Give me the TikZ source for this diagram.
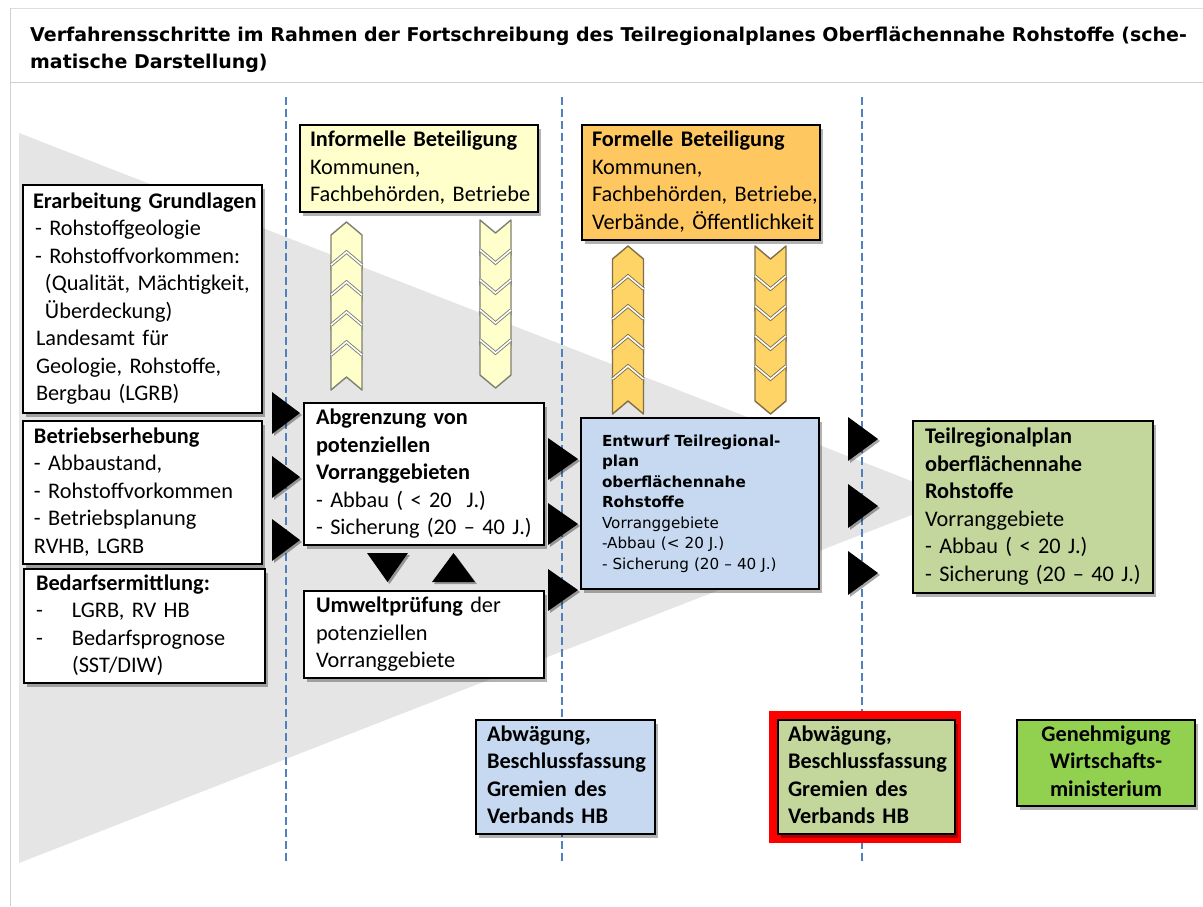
\documentclass[tikz,border=0pt]{standalone}
\usepackage{fontspec}
\setmainfont{Carlito}
\newfontfamily\vfont{DejaVu Sans}
\usetikzlibrary{shadows}
\definecolor{dashblue}{HTML}{4F81BD}
\definecolor{infofill}{HTML}{FFFFCC}
\definecolor{formfill}{HTML}{FFC760}
\definecolor{chevgold}{HTML}{FFD466}
\definecolor{chevgoldline}{HTML}{7F6F48}
\definecolor{chevpale}{HTML}{FFFFCC}
\definecolor{chevpaleline}{HTML}{7F7F72}
\definecolor{lblue}{HTML}{C6D9F1}
\definecolor{lgreen}{HTML}{C3D69B}
\definecolor{bgreen}{HTML}{92D050}
\definecolor{trigray}{HTML}{E5E5E5}
\definecolor{framegray}{HTML}{D0D0D0}
\newcommand\bodyfont{\fontsize{22.3}{27.5}\selectfont}
\newcommand\verdfont{\vfont\fontsize{15.2}{20.5}\selectfont}
\newcommand\titlefont{\vfont\bfseries\fontsize{19}{26.5}\selectfont}
\newcommand\tb[1]{\noindent\begin{tabular}{@{}l@{}}#1\end{tabular}}
\newcommand\tbc[1]{\begin{tabular}{@{}c@{}}#1\end{tabular}}
\newcommand\bx[8]{%
  \pgfmathsetmacro\BXw{#4-#2}%
  \pgfmathsetmacro\BXh{#5-#3}%
  \pgfmathsetmacro\BXx{(#2+#4)/2}%
  \pgfmathsetmacro\BXy{(#3+#5)/2}%
  \pgfmathsetmacro\BXt{#4-#2-2*#6}%
  \node[box,inner xsep=#6pt,#7,minimum width=\BXw pt,minimum height=\BXh pt,text width=\BXt pt] (#1) at (\BXx,\BXy) {#8};}
\newcommand\chevup[4]{%
  \foreach \k in {0,...,4}{%
    \pgfmathsetmacro\ca{#2+30*\k}%
    \filldraw[fill=#3,draw=#4,line width=1.4pt,line join=round]
      (#1,\ca) -- (#1+15.5,\ca+13) -- (#1+15.5,\ca+48) -- (#1,\ca+35)
      -- (#1-15.5,\ca+48) -- (#1-15.5,\ca+13) -- cycle;
    \ifnum\k>0
      \draw[draw=#4,double=white,double distance=1.6pt,line width=0.9pt]
        (#1-15.5,\ca+13) -- (#1,\ca) -- (#1+15.5,\ca+13);
    \fi}}
\newcommand\chevdown[4]{%
  \foreach \k in {0,...,4}{%
    \pgfmathsetmacro\ca{#2+30*\k}%
    \filldraw[fill=#3,draw=#4,line width=1.4pt,line join=round]
      (#1-15.5,\ca) -- (#1,\ca+13) -- (#1+15.5,\ca) -- (#1+15.5,\ca+35)
      -- (#1,\ca+48) -- (#1-15.5,\ca+35) -- cycle;
    \ifnum\k>0
      \draw[draw=#4,double=white,double distance=1.6pt,line width=0.9pt]
        (#1-15.5,\ca) -- (#1,\ca+13) -- (#1+15.5,\ca);
    \fi}}
\begin{document}
\begin{tikzpicture}[x=1pt,y=-1pt,
  box/.style={draw=black,line width=2.4pt,rectangle,inner ysep=0pt,align=left,
    font=\bodyfont,fill=white,
    drop shadow={shadow xshift=3pt,shadow yshift=-4pt,opacity=0.3,fill=black}},
  arrtri/.style={fill=black,
    drop shadow={shadow xshift=2pt,shadow yshift=-2pt,opacity=0.35,fill=black}},
  phase/.style={draw=dashblue,line width=1.8pt,dash pattern=on 8pt off 4pt}]
\useasboundingbox (0,0) rectangle (1203,906);
\fill[white] (0,0) rectangle (1203,906);
% frame
\draw[framegray!70,line width=0.8pt] (10,8) -- (1203,8);
\draw[framegray,line width=1pt] (10,82) -- (1203,82);
\draw[framegray,line width=1pt] (10,8) -- (10,906);
% title
\node[anchor=north west,inner sep=0pt,align=left,font=\titlefont] (title) at (30,27)
  {Verfahrensschritte im Rahmen der Fortschreibung des Teilregionalplanes Oberflächennahe Rohstoffe (sche-\\matische Darstellung)};
% grey funnel
\fill[trigray] (19,133) -- (955,498) -- (19,863) -- cycle;
% phase lines
\draw[phase] (286,97) -- (286,862);
\draw[phase] (562,97) -- (562,862);
\draw[phase] (862,97) -- (862,862);
% chevrons
\chevup{346.5}{222}{chevpale}{chevpaleline}
\chevdown{495.5}{220}{chevpale}{chevpaleline}
\chevup{628}{246}{chevgold}{chevgoldline}
\chevdown{770.5}{246}{chevgold}{chevgoldline}
% arrow triangles
\fill[arrtri] (272,392) -- (300,413) -- (272,434) -- cycle;
\fill[arrtri] (272,456) -- (300,477) -- (272,498) -- cycle;
\fill[arrtri] (272,519) -- (300,540) -- (272,561) -- cycle;
\fill[arrtri] (548,438) -- (578,459) -- (548,480) -- cycle;
\fill[arrtri] (548,503) -- (578,524) -- (548,545) -- cycle;
\fill[arrtri] (548,569) -- (578,590) -- (548,611) -- cycle;
\fill[arrtri] (848,417) -- (878,439) -- (848,461) -- cycle;
\fill[arrtri] (848,484) -- (878,506) -- (848,528) -- cycle;
\fill[arrtri] (848,551) -- (878,573) -- (848,595) -- cycle;
\fill[arrtri] (367,553) -- (408,553) -- (387.5,582) -- cycle;
\fill[arrtri] (432,582) -- (475,582) -- (453.5,553) -- cycle;
% red frame
\fill[red] (769,711) rectangle (961,843);
% boxes
\bx{info}{300}{125}{538}{212}{10}{fill=infofill}{\tb{\textbf{Informelle Beteiligung}\\Kommunen,\\Fachbehörden, Betriebe}}
\bx{formell}{582}{125}{820}{240}{10}{fill=formfill}{\tb{\textbf{Formelle Beteiligung}\\Kommunen,\\Fachbehörden, Betriebe,\\Verbände, Öffentlichkeit}}
\bx{grund}{23}{185}{262}{413}{10}{}{\tb{\textbf{Erarbeitung Grundlagen}\\
  \hspace{2pt}- Rohstoffgeologie\\
  \hspace{2pt}- Rohstoffvorkommen:\\
  \hspace{12pt}(Qualität, Mächtigkeit,\\
  \hspace{12pt}Überdeckung)\\
  \hspace{3pt}Landesamt für\\
  \hspace{3pt}Geologie, Rohstoffe,\\
  \hspace{3pt}Bergbau (LGRB)}}
\bx{betrieb}{23}{421}{262}{564}{11}{}{\tb{\textbf{Betriebserhebung}\\- Abbaustand,\\- Rohstoffvorkommen\\- Betriebsplanung\\RVHB, LGRB}}
\bx{bedarf}{24}{569}{265}{683}{12}{}{\tb{\textbf{Bedarfsermittlung:}\\
  \makebox[36pt][l]{-}LGRB, RV HB\\
  \makebox[36pt][l]{-}Bedarfsprognose\\
  \hspace{36pt}(SST/DIW)}}
\bx{abgr}{304}{403}{544}{545}{12}{}{\tb{\textbf{Abgrenzung von}\\\textbf{potenziellen}\\\textbf{Vorranggebieten}\\- Abbau ( < 20\ \ J.)\\- Sicherung (20 – 40 J.)}}
\bx{umwelt}{304}{591}{544}{678}{12}{}{\tb{\textbf{Umweltprüfung} der\\potenziellen\\Vorranggebiete}}
\bx{entwurf}{581}{418}{819}{589}{21}{fill=lblue,font=\verdfont}{\tb{\textbf{Entwurf Teilregional-}\\\textbf{plan}\\\textbf{oberflächennahe}\\\textbf{Rohstoffe}\\Vorranggebiete\\-Abbau (< 20 J.)\\- Sicherung (20 – 40 J.)}}
\bx{teil}{913}{421}{1153}{593}{12}{fill=lgreen}{\tb{\textbf{Teilregionalplan}\\\textbf{oberflächennahe}\\\textbf{Rohstoffe}\\Vorranggebiete\\- Abbau ( < 20 J.)\\- Sicherung (20 – 40 J.)}}
\bx{abw1}{476}{720}{655}{834}{11}{fill=lblue}{\tb{\textbf{Abwägung,}\\\textbf{Beschlussfassung}\\\textbf{Gremien des}\\\textbf{Verbands HB}}}
\bx{abw2}{778}{720}{955}{834}{10}{fill=lgreen}{\tb{\textbf{Abwägung,}\\\textbf{Beschlussfassung}\\\textbf{Gremien des}\\\textbf{Verbands HB}}}
\bx{gen}{1017}{720}{1195}{806}{8}{fill=bgreen,align=center}{\tbc{\textbf{Genehmigung}\\\textbf{Wirtschafts-}\\\textbf{ministerium}}}
\end{tikzpicture}
\end{document}
